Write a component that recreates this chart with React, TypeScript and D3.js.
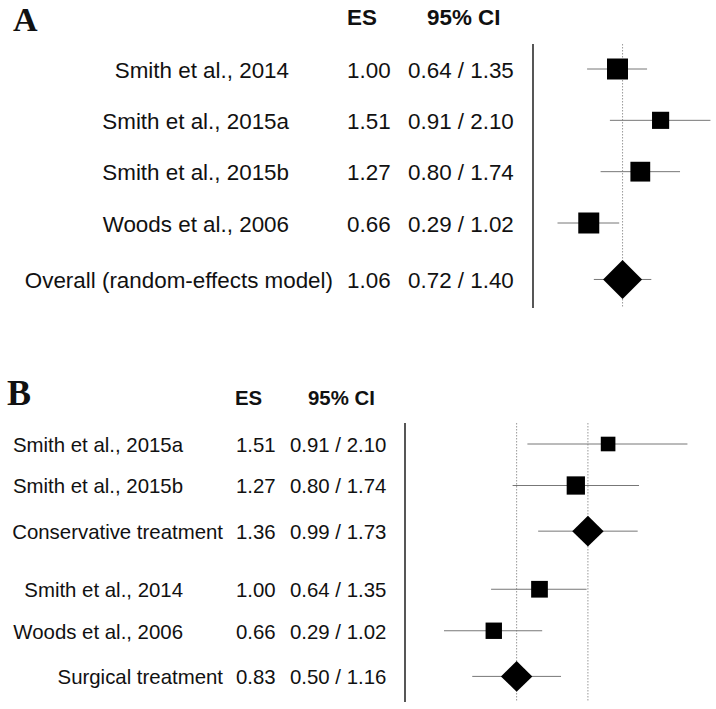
import React from 'react';
import * as d3 from 'd3';

// Panel A: all studies + random-effects overall
const studiesA = ['Smith et al., 2014', 'Smith et al., 2015a', 'Smith et al., 2015b', 'Woods et al., 2006'];
const esA = [1.0, 1.51, 1.27, 0.66];
const lowA = [0.64, 0.91, 0.8, 0.29];
const highA = [1.35, 2.1, 1.74, 1.02];
const weightA = [27, 18, 24, 27];
const overallA = ['Overall (random-effects model)'];
const overallEsA = [1.06];
const overallLowA = [0.72];
const overallHighA = [1.4];

// Panel B: subgroups by treatment
const studiesCons = ['Smith et al., 2015a', 'Smith et al., 2015b'];
const esCons = [1.51, 1.27];
const lowCons = [0.91, 0.8];
const highCons = [2.1, 1.74];
const weightCons = [39, 61];
const studiesSurg = ['Smith et al., 2014', 'Woods et al., 2006'];
const esSurg = [1.0, 0.66];
const lowSurg = [0.64, 0.29];
const highSurg = [1.35, 1.02];
const weightSurg = [51, 49];
const subtotals = ['Conservative treatment', 'Surgical treatment'];
const subEs = [1.36, 0.83];
const subLow = [0.99, 0.5];
const subHigh = [1.73, 1.16];

const headers = ['ES', '95% CI'];

const SANS = '"Liberation Sans", Arial, sans-serif';
const SERIF = '"Liberation Serif", "Times New Roman", serif';

type Row = { label: string; es: number; lo: number; hi: number; w: number | null; slot: number };

const fmt = d3.format('.2f');

const Panel = ({ letter, letterPos, letterSize, rows, x, y, size, fontSize, cols, headerY, axis, refs, dia }) => {
  return (
    <g>
      <text x={letterPos[0]} y={letterPos[1]} fontFamily={SERIF} fontWeight="bold" fontSize={letterSize} fill="#111">
        {letter}
      </text>
      <text x={cols.hEs} y={headerY} fontFamily={SANS} fontWeight="bold" fontSize={fontSize} fill="#111">{headers[0]}</text>
      <text x={cols.hCi} y={headerY} fontFamily={SANS} fontWeight="bold" fontSize={fontSize} fill="#111">{headers[1]}</text>

      {/* null line + reference lines */}
      <line x1={x(0)} x2={x(0)} y1={axis[0]} y2={axis[1]} stroke="#444" strokeWidth={1.8} />
      {refs.map((r, i) => (
        <line key={i} x1={x(r)} x2={x(r)} y1={axis[0]} y2={axis[1]} stroke="#999" strokeWidth={1} strokeDasharray="1.5,1.5" />
      ))}

      {rows.map((d: Row, i: number) => {
        const cy = y(d.slot);
        const cx = x(d.es);
        const isSum = d.w === null;
        return (
          <g key={i}>
            <text x={isSum ? cols.sumRight : cols.labelRight} y={cy} dy="0.38em" textAnchor="end"
              fontFamily={SANS} fontSize={fontSize} fill="#111">{d.label}</text>
            <text x={cols.es} y={cy} dy="0.38em" fontFamily={SANS} fontSize={fontSize} fill="#111">{fmt(d.es)}</text>
            <text x={cols.ci} y={cy} dy="0.38em" fontFamily={SANS} fontSize={fontSize} fill="#111">
              {fmt(d.lo) + ' / ' + fmt(d.hi)}
            </text>
            <line x1={x(d.lo)} x2={x(d.hi)} y1={cy} y2={cy} stroke="#777" strokeWidth={1} />
            {isSum ? (
              <path d={`M${cx - dia[0]},${cy}L${cx},${cy - dia[1]}L${cx + dia[0]},${cy}L${cx},${cy + dia[1]}Z`} fill="#000" />
            ) : (
              <rect x={cx - size(d.w) / 2} y={cy - size(d.w) / 2} width={size(d.w)} height={size(d.w)} fill="#000" />
            )}
          </g>
        );
      })}
    </g>
  );
};

export default function App() {
  // Panel A rows
  const rowsA: Row[] = studiesA.map((s, i) => ({ label: s, es: esA[i], lo: lowA[i], hi: highA[i], w: weightA[i], slot: i }));
  rowsA.push({ label: overallA[0], es: overallEsA[0], lo: overallLowA[0], hi: overallHighA[0], w: null, slot: 4.1 });

  // Panel B rows
  const rowsB: Row[] = [];
  studiesCons.forEach((s, i) => rowsB.push({ label: s, es: esCons[i], lo: lowCons[i], hi: highCons[i], w: weightCons[i], slot: i }));
  rowsB.push({ label: subtotals[0], es: subEs[0], lo: subLow[0], hi: subHigh[0], w: null, slot: 2.1 });
  studiesSurg.forEach((s, i) => rowsB.push({ label: s, es: esSurg[i], lo: lowSurg[i], hi: highSurg[i], w: weightSurg[i], slot: 3.5 + i }));
  rowsB.push({ label: subtotals[1], es: subEs[1], lo: subLow[1], hi: subHigh[1], w: null, slot: 5.6 });

  const xA = d3.scaleLinear().domain([0, 1]).range([533, 617.5]);
  const yA = d3.scaleLinear().domain([0, 3]).range([69, 223]);
  const sizeA = d3.scaleSqrt().domain([0, 100]).range([0, 40.4]);

  const xB = d3.scaleLinear().domain([0, 1]).range([405, 539.5]);
  const yB = d3.scaleLinear().domain([0, 1]).range([444, 485.5]);
  const sizeB = d3.scaleSqrt().domain([0, 100]).range([0, 23.4]);

  return (
    <svg width={716} height={709} style={{ position: 'absolute', left: 0, top: 0, background: '#fff' }}>
      <rect width={716} height={709} fill="#fff" />
      <Panel
        letter="A" letterPos={[13, 31]} letterSize={34}
        rows={rowsA} x={xA} y={yA} size={sizeA} fontSize={22.4}
        cols={{ labelRight: 289, sumRight: 333, es: 347, ci: 408, hEs: 347, hCi: 427 }}
        headerY={25} axis={[44, 308]} refs={overallEsA} dia={[19.5, 19.5]}
      />
      <Panel
        letter="B" letterPos={[7, 405]} letterSize={36}
        rows={rowsB} x={xB} y={yB} size={sizeB} fontSize={20.4}
        cols={{ labelRight: 183, sumRight: 223, es: 236, ci: 290, hEs: 235, hCi: 308 }}
        headerY={405} axis={[423, 702]} refs={subEs} dia={[15.7, 15.3]}
      />
    </svg>
  );
}
